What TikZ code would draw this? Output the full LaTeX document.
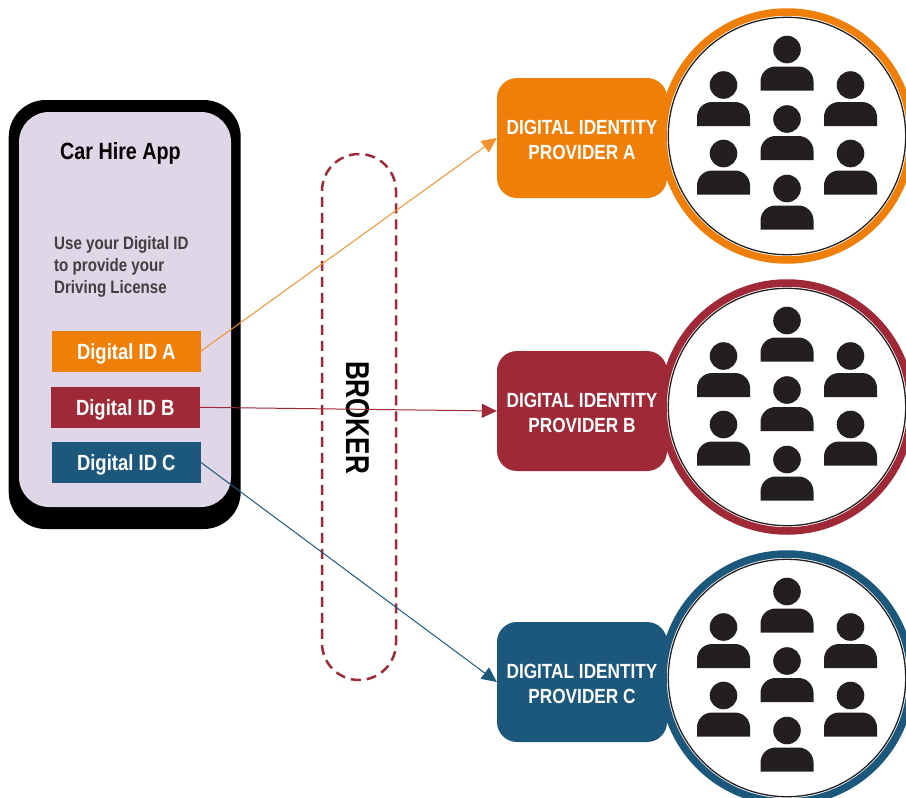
\documentclass[tikz,border=0pt]{standalone}
\usepackage{fontspec}
\setmainfont{Liberation Sans}[FakeStretch=0.84]
\usetikzlibrary{arrows.meta}
\definecolor{idorange}{HTML}{F07F09}
\definecolor{idred}{HTML}{9F2936}
\definecolor{idblue}{HTML}{1B587C}
\definecolor{screen}{HTML}{DFD6E7}
\definecolor{person}{HTML}{231F20}
\tikzset{
  idbox/.style={fill=#1, text=white, minimum width=148.5pt, minimum height=40.5pt, inner sep=0pt,
    text height=17pt, text depth=0pt, font=\fontsize{22}{26}\selectfont\bfseries},
  provider/.style={fill=#1, text=white, rounded corners=20pt, minimum width=170pt, minimum height=120pt,
    inner sep=0pt, align=center, font=\fontsize{20.5}{25}\selectfont\bfseries},
  crowd/.style={circle, draw=#1, fill=white, line width=7.5pt, minimum size=248pt, inner sep=0pt},
  link/.style={draw=#1, line width=1pt, -{Triangle[length=15pt,width=14pt,fill=#1]}},
  member/.pic={
    \fill [person] (0,0) circle (13.8);
    \fill [person] (-26.5,41) [rounded corners=15pt] -- (-26.5,17) -- (26.5,17) [sharp corners] -- (26.5,41) -- cycle;
  }
}
\begin{document}
\begin{tikzpicture}
  [x=1pt, y=-1pt, node distance=271pt]
  \useasboundingbox (0,0) rectangle (906,798);

  % phone
  \node [name=phone, fill=black, rounded corners=37pt, minimum width=232pt, minimum height=429pt, inner sep=0pt] at (124.7,314.5) {};
  \node [name=display, fill=screen, rounded corners=30pt, minimum width=212pt, minimum height=395pt, inner sep=0pt] at (125,309.5) {};
  \node [name=title, font=\fontsize{23.5}{28}\selectfont\bfseries] at (120.5,153) {Car Hire App};
  \node [name=prompt, text=black!75, align=left, anchor=north west, inner sep=0pt, font=\fontsize{18}{22}\selectfont\bfseries] at (54,236.5) {Use your Digital ID\\to provide your\\Driving License};

  \node [name=idA, idbox=idorange] at (126.3,351.3) {Digital ID A};
  \node [name=idB, idbox=idred] at (125.3,407.3) {Digital ID B};
  \node [name=idC, idbox=idblue] at (126.3,462.3) {Digital ID C};

  % broker
  \node [name=broker, draw=idred, dash pattern=on 10pt off 6pt, line width=2.5pt, rounded corners=37pt, minimum width=74pt, minimum height=526pt, inner sep=0pt] at (359,417) {};
  \node [name=brokertext, rotate=-90, xscale=0.94, font=\fontsize{33}{36}\selectfont\bfseries] at (357.5,417.5) {BROKER};

  % providers
  \node [name=providerA, provider=idorange] at (582,138) {\rule{0pt}{18.5pt}DIGITAL IDENTITY\\PROVIDER A};
  \node [name=providerB, provider=idred, below of=providerA, node distance=273pt] {\rule{0pt}{18.5pt}DIGITAL IDENTITY\\PROVIDER B};
  \node [name=providerC, provider=idblue, below of=providerB] {\rule{0pt}{18.5pt}DIGITAL IDENTITY\\PROVIDER C};

  % crowds
  \node [name=crowdA, crowd=idorange] at (787,136) {};
  \node [name=crowdB, crowd=idred, below of=crowdA] {};
  \node [name=crowdC, crowd=idblue, below of=crowdB] {};
  \foreach \crowdname in {crowdA,crowdB,crowdC} {
    \draw [line width=1.3pt, draw=person] (\crowdname.center) circle (118.7);
    \foreach \dx/\dy in {0/-86.5, -63.5/-51, 63.5/-51, 0/-17, -63.5/17.5, 63.5/17.5, 0/52.5}
      \pic at ([shift={(\dx,\dy)}]\crowdname.center) {member};
  }

  \path [link=idorange!85!white] (idA.east) -- (providerA.west);
  \path [link=idred] (idB.east) -- (providerB.west);
  \path [link=idblue] (idC.east) -- (providerC.west);
\end{tikzpicture}
\end{document}
